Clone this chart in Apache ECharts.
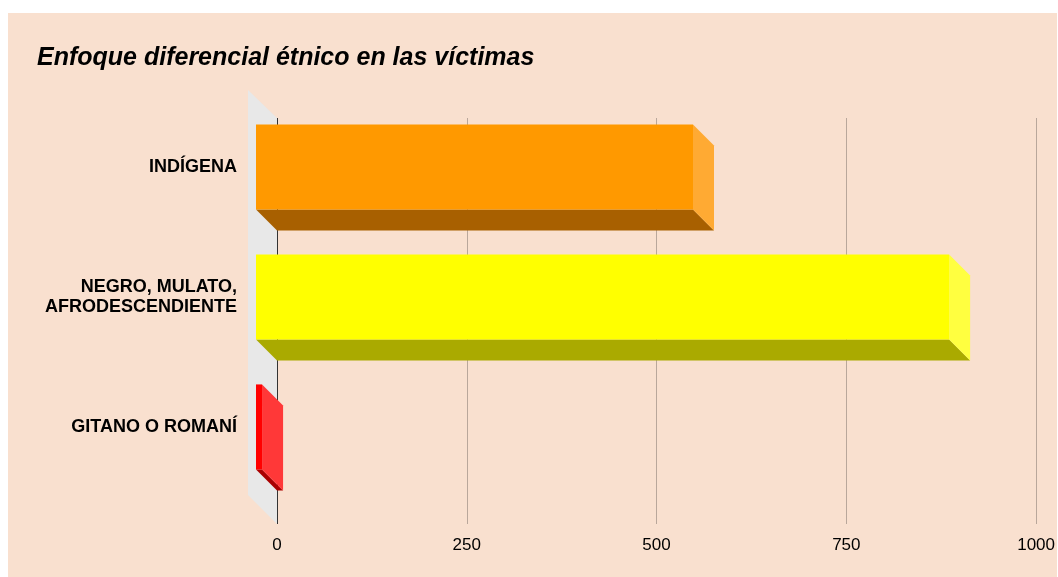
<!DOCTYPE html>
<html>
<head>
<meta charset="utf-8">
<title>Enfoque diferencial étnico en las víctimas</title>
<script src="https://cdn.jsdelivr.net/npm/echarts@6/dist/echarts.min.js"></script>
<style>
  html, body { margin: 0; padding: 0; background: #fff; }
  #chart { width: 1058px; height: 577px; }
</style>
</head>
<body>
<div id="chart"></div>
<script>
const categorias = ['INDÍGENA', 'NEGRO, MULATO,\nAFRODESCENDIENTE', 'GITANO O ROMANÍ'];
const victimas = [575, 912, 8];
const ticks = [0, 250, 500, 750, 1000];

// front / right side / bottom colour of each bar
const coloresFrente = ['#FF9900', '#FFFF00', '#FF0000'];
const coloresLado = ['#FFAA33', '#FFFF40', '#FF3838'];
const coloresBase = ['#A86000', '#AAAA00', '#AA0000'];

const DEPTH = 21;
const WALL = 29;

const chart = echarts.init(document.getElementById('chart'));

const option = {
  animation: false,
  backgroundColor: '#ffffff',
  graphic: {
    elements: [{
      type: 'rect',
      z: -100,
      shape: { x: 8, y: 13, width: 1049, height: 564 },
      style: { fill: '#F9E0CF' }
    }]
  },
  title: {
    text: 'Enfoque diferencial étnico en las víctimas',
    left: 37,
    top: 46,
    padding: 0,
    textStyle: {
      fontFamily: 'Liberation Sans, Arial, sans-serif',
      fontSize: 25,
      fontWeight: 'bold',
      fontStyle: 'italic',
      color: '#000'
    }
  },
  grid: [
    // back plane (gridlines, wall)
    { left: 277, right: 21, top: 118, bottom: 53 },
    // front plane of the bars, shifted by the depth
    { left: 277 - DEPTH, right: 21 + DEPTH, top: 123 - DEPTH, bottom: 64 + DEPTH }
  ],
  xAxis: [{
    gridIndex: 0,
    type: 'value',
    min: ticks[0],
    max: ticks[ticks.length - 1],
    interval: 250,
    axisLine: { show: false },
    axisTick: { show: false },
    axisLabel: {
      margin: 13,
      formatter: v => String(v),
      fontFamily: 'Liberation Sans, Arial, sans-serif',
      fontSize: 17,
      color: '#000'
    },
    splitLine: {
      lineStyle: {
        width: 1,
        color: ['#333333', '#B9A79B', '#B9A79B', '#B9A79B', '#B9A79B']
      }
    }
  }, {
    gridIndex: 1,
    type: 'value',
    min: ticks[0],
    max: ticks[ticks.length - 1],
    show: false
  }],
  yAxis: [{
    gridIndex: 0,
    type: 'value',
    min: 0,
    max: 1,
    show: false
  }, {
    gridIndex: 1,
    type: 'category',
    inverse: true,
    data: categorias,
    axisLine: { show: false },
    axisTick: { show: false },
    splitLine: { show: false },
    axisLabel: {
      margin: 19,
      fontFamily: 'Liberation Sans, Arial, sans-serif',
      fontSize: 18,
      lineHeight: 20,
      fontWeight: 'bold',
      align: 'right',
      color: '#000'
    }
  }],
  series: [{
    // grey side wall
    type: 'custom',
    xAxisIndex: 0,
    yAxisIndex: 0,
    z: -1,
    silent: true,
    data: [[0, 0]],
    renderItem: function (params, api) {
      const cs = params.coordSys;
      return {
        type: 'polygon',
        shape: {
          points: [
            [cs.x, cs.y],
            [cs.x - WALL, cs.y - WALL + 1],
            [cs.x - WALL, cs.y + cs.height - WALL],
            [cs.x, cs.y + cs.height]
          ]
        },
        style: { fill: '#E8E8E8' }
      };
    }
  }, {
    name: 'Víctimas',
    type: 'custom',
    xAxisIndex: 1,
    yAxisIndex: 1,
    data: victimas.map((v, i) => [v, i]),
    encode: { x: 0, y: 1 },
    renderItem: function (params, api) {
      const i = api.value(1);
      const start = api.coord([0, i]);
      const end = api.coord([api.value(0), i]);
      const h = api.size([0, 1])[1] * 0.655;
      const x0 = start[0], x1 = end[0];
      const yf = start[1] - h / 2;   // top of the front face
      const d = DEPTH;
      return {
        type: 'group',
        children: [{
          type: 'polygon',
          shape: { points: [[x0, yf + h], [x1, yf + h], [x1 + d, yf + h + d], [x0 + d, yf + h + d]] },
          style: { fill: coloresBase[i] }
        }, {
          type: 'polygon',
          shape: { points: [[x1, yf], [x1 + d, yf + d], [x1 + d, yf + h + d], [x1, yf + h]] },
          style: { fill: coloresLado[i] }
        }, {
          type: 'rect',
          shape: { x: x0, y: yf, width: x1 - x0, height: h },
          style: { fill: coloresFrente[i] }
        }]
      };
    }
  }]
};

chart.setOption(option);
window.addEventListener('resize', () => chart.resize());
</script>
</body>
</html>
